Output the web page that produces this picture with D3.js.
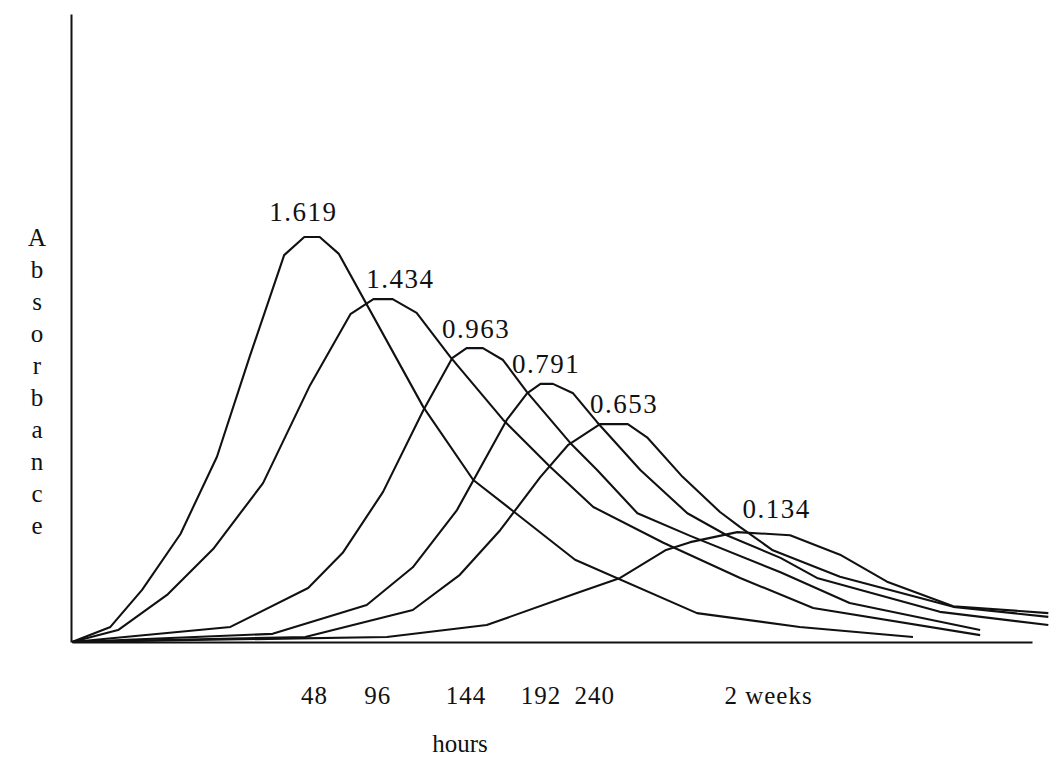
<!DOCTYPE html>
<html><head><meta charset="utf-8">
<script src="https://cdn.jsdelivr.net/npm/d3@7"></script>
<style>
body{margin:0;background:#fff}
svg text{font-family:"Liberation Serif","Times New Roman",serif;fill:#111}
</style>
</head><body>
<svg id="chart" width="1055" height="768"></svg>
<script>
// ---- data (arbitrary units) ----
const peakLabels = ["1.619", "1.434", "0.963", "0.791", "0.653", "0.134"];

const s1t = [0, 4.0, 7.3, 11.3, 15.1, 18.5, 22.1, 24.2, 25.8, 27.8, 36.6, 41.8, 45.9, 52.4, 65.1, 75.8, 87.6];
const s1v = [0, 2.4, 8.3, 17.2, 29.5, 45.4, 61.6, 64.5, 64.5, 61.8, 37.4, 25.8, 20.9, 13.1, 4.6, 2.4, 0.8];

const s2t = [0, 4.8, 9.9, 14.7, 19.9, 24.8, 29.0, 31.4, 33.4, 35.9, 39.4, 44.9, 49.8, 54.3, 61.6, 69.6, 77.2, 94.6];
const s2v = [0, 1.9, 7.5, 14.8, 25.3, 40.9, 52.2, 54.6, 54.6, 52.4, 45.4, 35.4, 27.9, 21.5, 15.8, 10.2, 5.4, 1.1];

const s3t = [0, 16.5, 24.6, 28.2, 32.4, 36.6, 39.6, 41.1, 42.8, 44.9, 47.4, 51.9, 54.7, 58.9, 64.4, 73.8, 81.0, 94.6];
const s3v = [0, 2.4, 8.6, 14.2, 23.9, 36.9, 45.2, 46.8, 46.8, 44.9, 39.8, 31.7, 27.4, 20.5, 16.9, 11.1, 6.2, 1.9];

const s4t = [0, 20.9, 30.7, 35.5, 40.1, 45.3, 47.4, 48.8, 50.1, 52.2, 54.7, 59.2, 64.1, 68.2, 73.8, 77.6, 90.4, 101.7];
const s4v = [0, 1.3, 5.9, 11.9, 21.0, 35.4, 39.6, 41.1, 41.1, 39.6, 35.0, 27.4, 20.5, 17.0, 13.4, 10.2, 4.8, 2.7];

const s5t = [0, 24.3, 35.5, 40.4, 44.6, 48.8, 51.7, 55.0, 57.9, 59.9, 63.6, 67.5, 69.6, 73.0, 80.0, 91.8, 101.7];
const s5v = [0, 0.8, 5.1, 10.7, 17.8, 26.3, 31.4, 34.7, 34.7, 32.6, 26.3, 20.7, 18.3, 14.6, 10.4, 5.6, 4.0];

const s6t = [0, 32.8, 43.2, 52.6, 57.1, 61.8, 64.4, 69.3, 74.8, 80.0, 84.9, 91.8, 101.7];
const s6v = [0, 0.8, 2.7, 7.8, 10.2, 14.6, 15.9, 17.5, 17.0, 13.9, 9.6, 5.7, 4.6];

// where each peak value is written (data units)
const labelT = [24.1, 34.2, 42.1, 49.4, 57.5, 73.4];
const labelV = [67.0, 56.4, 48.4, 42.8, 36.5, 19.7];

const tickValues = [25.2, 31.8, 41.0, 48.8, 54.4, 72.5];
const tickLabels = ["48", "96", "144", "192", "240", "2 weeks"];

const xTitle = "hours";
const yTitle = "Absorbance";

// ---- drawing ----
const svg = d3.select("#chart");
const x = d3.scaleLinear().domain([0, 100]).range([72, 1032]);
const y = d3.scaleLinear().domain([0, 100]).range([642, 14]);

const series = [[s1t, s1v], [s2t, s2v], [s3t, s3v], [s4t, s4v], [s5t, s5v], [s6t, s6v]]
  .map(([t, v]) => t.map((d, i) => [d, v[i]]));

const line = d3.line().x(d => x(d[0])).y(d => y(d[1]));

svg.append("g").selectAll("path").data(series).join("path")
  .attr("d", line)
  .attr("fill", "none")
  .attr("stroke", "#111")
  .attr("stroke-width", 2.1)
  .attr("stroke-linejoin", "round");

// axes
const xAxis = d3.axisBottom(x).tickValues(tickValues)
  .tickFormat((d, i) => tickLabels[i]).tickSize(0).tickSizeOuter(0).tickPadding(44);
const gx = svg.append("g").attr("transform", `translate(0,${y(0)})`).call(xAxis);
gx.select(".domain").attr("stroke", "#111").attr("stroke-width", 2);
gx.selectAll(".tick text").attr("font-size", 25).attr("fill", "#111")
  .style("font-family", '"Liberation Serif","Times New Roman",serif')
  .attr("letter-spacing", 1);

const yAxis = d3.axisLeft(y).ticks(0).tickSize(0).tickSizeOuter(0);
const gy = svg.append("g").attr("transform", `translate(${x(0) - 1},0)`).call(yAxis);
gy.select(".domain").attr("stroke", "#111").attr("stroke-width", 2);

// peak labels
svg.append("g").selectAll("text").data(peakLabels).join("text")
  .attr("x", (d, i) => x(labelT[i]))
  .attr("y", (d, i) => y(labelV[i]))
  .attr("text-anchor", "middle")
  .attr("font-size", 27)
  .attr("letter-spacing", 1.5)
  .text(d => d);

// x title
svg.append("text").attr("x", 460).attr("y", 752)
  .attr("text-anchor", "middle").attr("font-size", 25).text(xTitle);

// y title: stacked letters
svg.append("g").selectAll("text").data(yTitle.split("")).join("text")
  .attr("x", 37)
  .attr("y", (d, i) => 246 + i * 32)
  .attr("text-anchor", "middle")
  .attr("font-size", 25)
  .text(d => d);
</script>
</body></html>
